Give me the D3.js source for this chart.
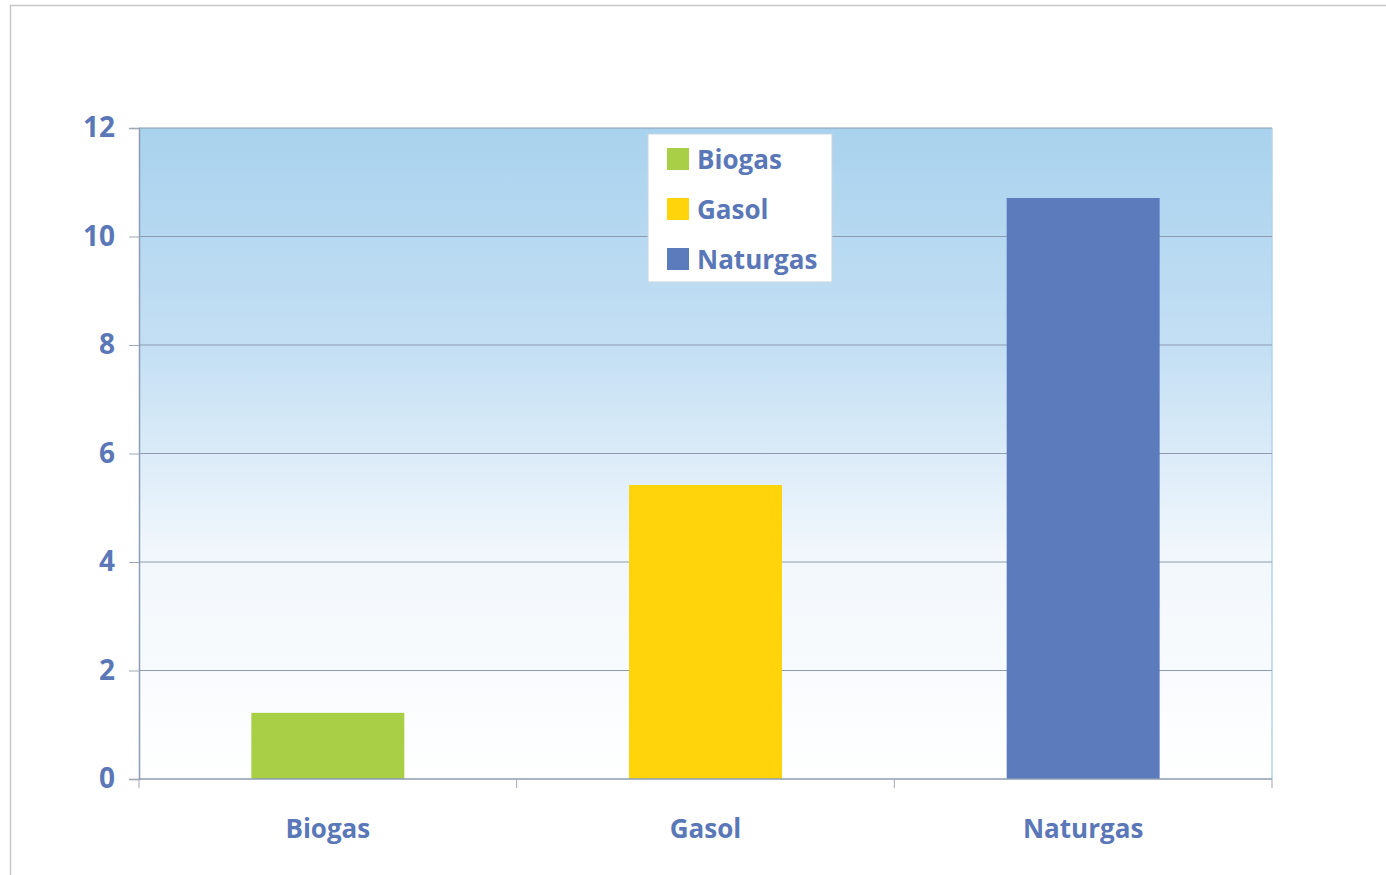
<!DOCTYPE html>
<html><head><meta charset="utf-8">
<script src="https://cdn.jsdelivr.net/npm/d3@7"></script>
<style>body{margin:0;background:#fff;overflow:hidden}svg{display:block}</style>
</head><body>
<script>
const categories = ["Biogas", "Gasol", "Naturgas"];
const values = [1.22, 5.42, 10.71];
const colors = ["#a8cf45", "#ffd40b", "#5b7bbd"];
const yTicks = [0, 2, 4, 6, 8, 10, 12];

const W = 1386, H = 875;
const pLeft = 139, pRight = 1272, pTop = 128, pBottom = 779;
const font = "'Open Sans', sans-serif";
const textColor = "#5a77b7";

const svg = d3.select("body").append("svg").attr("width", W).attr("height", H);
const defs = svg.append("defs");
const grad = defs.append("linearGradient").attr("id", "bg").attr("x1", 0).attr("y1", 0).attr("x2", 0).attr("y2", 1);
grad.append("stop").attr("offset", "0%").attr("stop-color", "#a9d2ee");
grad.append("stop").attr("offset", "35%").attr("stop-color", "#c5e0f4");
grad.append("stop").attr("offset", "65%").attr("stop-color", "#f1f7fc");
grad.append("stop").attr("offset", "100%").attr("stop-color", "#ffffff");

// frame
svg.append("rect").attr("x", 10.5).attr("y", 5.5).attr("width", W + 20).attr("height", H + 20)
  .attr("fill", "none").attr("stroke", "#c8c8c8").attr("stroke-width", 1.5);

const x = d3.scaleBand().domain(categories).range([pLeft, pRight]).paddingInner(0.595).paddingOuter(0.2975);
const y = d3.scaleLinear().domain([0, 12]).range([pBottom, pTop]);

svg.append("rect").attr("x", pLeft).attr("y", pTop).attr("width", pRight - pLeft).attr("height", pBottom - pTop)
  .attr("fill", "url(#bg)");
svg.append("line").attr("x1", pRight).attr("x2", pRight).attr("y1", pTop).attr("y2", pBottom)
  .attr("stroke", "#b5d3ee").attr("stroke-width", 1.5);

// gridlines
svg.append("g").selectAll("line").data(yTicks.filter(d => d > 0)).join("line")
  .attr("x1", pLeft).attr("x2", pRight).attr("y1", d => y(d)).attr("y2", d => y(d))
  .attr("stroke", "#8e9bb0").attr("stroke-width", 1);

// bars
svg.append("g").selectAll("rect").data(categories).join("rect")
  .attr("x", d => x(d)).attr("width", x.bandwidth())
  .attr("y", (d, i) => y(values[i])).attr("height", (d, i) => y(0) - y(values[i]))
  .attr("fill", (d, i) => colors[i]);

// y axis
const yAxis = svg.append("g").attr("transform", `translate(${pLeft},0)`)
  .call(d3.axisLeft(y).tickValues(yTicks).tickSize(10).tickPadding(14).tickFormat(d3.format("d")));
yAxis.select(".domain").attr("stroke", "#8c9db5").attr("stroke-width", 1.5);
yAxis.selectAll(".tick line").attr("stroke", "#a0a8b5");
yAxis.selectAll("text").attr("fill", textColor).attr("font-family", font).attr("font-weight", 700).attr("font-size", 28);

// x axis
const xAxis = svg.append("g").attr("transform", `translate(0,${pBottom})`);
xAxis.append("line").attr("x1", pLeft).attr("x2", pRight).attr("stroke", "#8c9db5").attr("stroke-width", 1.5);
xAxis.selectAll(".tk").data([0, 1, 2, 3]).join("line")
  .attr("x1", d => pLeft + d * x.step()).attr("x2", d => pLeft + d * x.step()).attr("y1", 0).attr("y2", 9).attr("stroke", "#a0a8b5");
xAxis.selectAll("text").data(categories).join("text")
  .attr("x", d => x(d) + x.bandwidth() / 2).attr("y", 59).attr("text-anchor", "middle")
  .attr("fill", textColor).attr("font-family", font).attr("font-weight", 700).attr("font-size", 26)
  .text(d => d);

// legend
const lg = svg.append("g").attr("transform", "translate(648,134)");
lg.append("rect").attr("width", 184).attr("height", 148).attr("fill", "#fff").attr("stroke", "#c9d3e0");
const li = lg.selectAll(".li").data(categories).join("g").attr("transform", (d, i) => `translate(19,${14 + i * 50})`);
li.append("rect").attr("width", 22).attr("height", 22).attr("fill", (d, i) => colors[i]);
li.append("text").attr("x", 30).attr("y", 21).attr("fill", textColor).attr("font-family", font)
  .attr("font-weight", 700).attr("font-size", 26).text(d => d);
</script>
</body></html>
